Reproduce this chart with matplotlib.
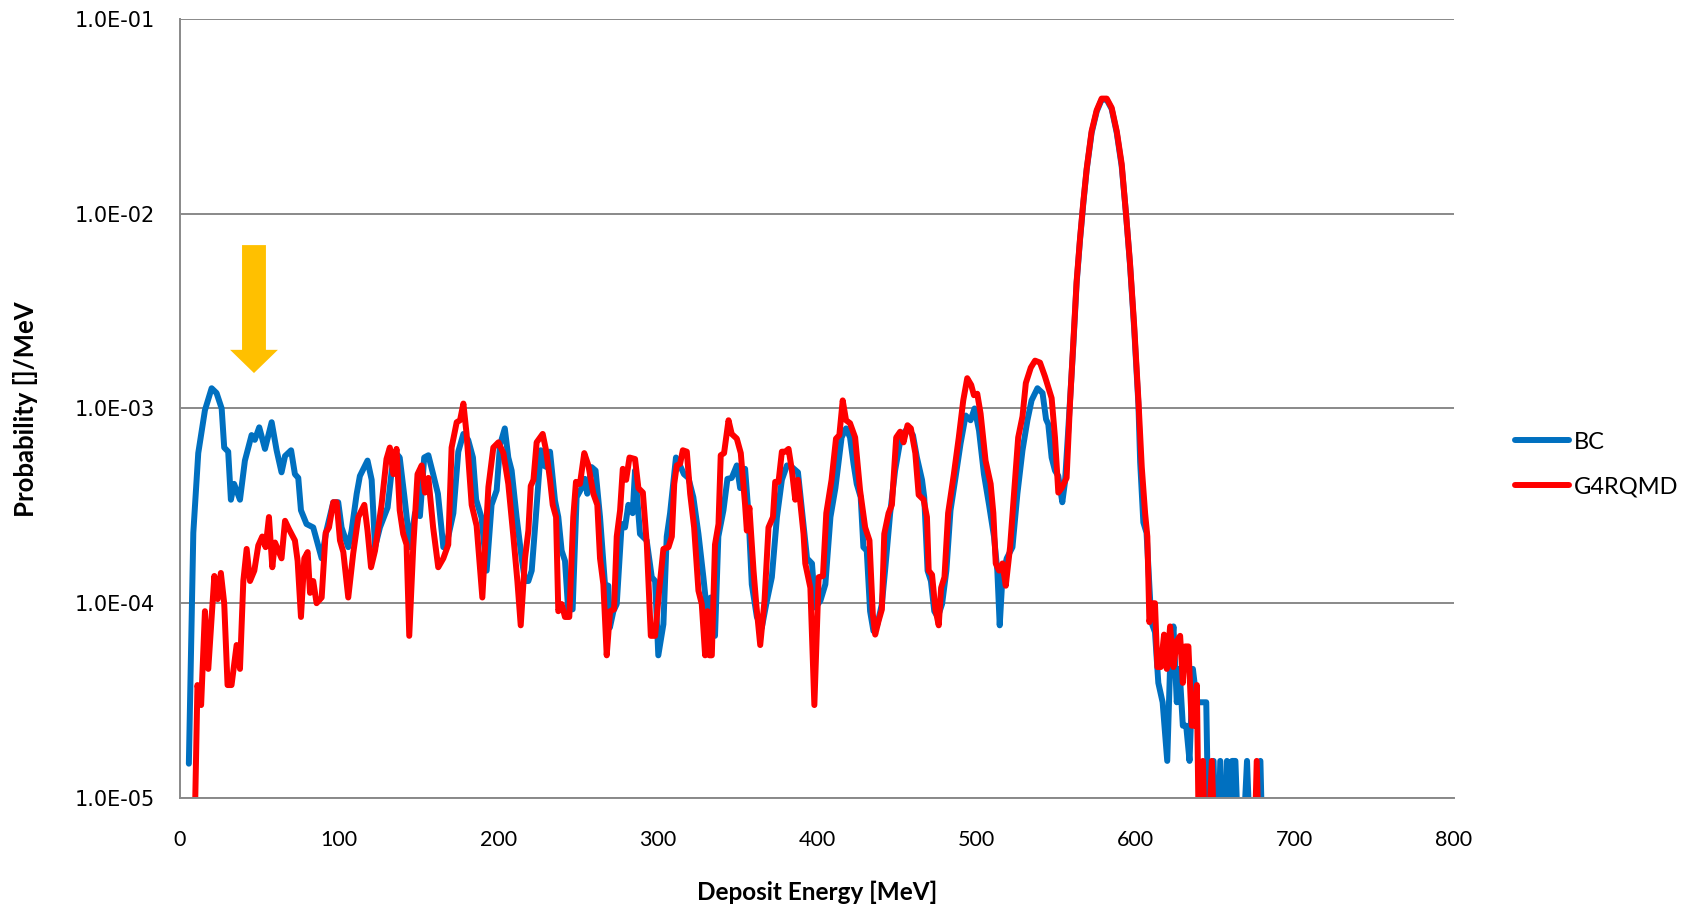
#!/usr/bin/env python3

import matplotlib
matplotlib.use("Agg")
import matplotlib.pyplot as plt
from matplotlib.patches import Polygon
from matplotlib.ticker import FixedLocator, FuncFormatter, NullLocator

# values below 1e-5 are zero bins; the log axis clips them at the bottom
bc_energy = [5.6, 8.4, 11.5, 15.7, 19.9, 23, 26.2, 27.8, 30.3, 32, 34, 37.7, 40.8, 45, 47, 49.8,
             53.4, 57.6, 60.7, 63.8, 66, 69.8, 72.2, 74.3, 76, 79.5, 83.7, 89, 92, 96.3, 99.4,
             101.5, 105.7, 107.8, 111, 113, 117.8, 120.4, 122.5, 125.6, 130.4, 133, 135, 138,
             141, 144.5, 147.6, 150.7, 153.4, 156, 159, 162, 165.4, 168.5, 171.7, 174.8, 178,
             181, 184, 186, 189.4, 192.6, 195.7, 198.9, 201, 204, 206.2, 208.3, 211.4, 214.6,
             216.7, 218.8, 220.9, 223, 226.6, 228.3, 230.3, 232.4, 235.5, 237.6, 239.7, 241.8,
             243.8, 246.6, 249.1, 252.2, 254.3, 255.8, 258.5, 261, 263.8, 266.9, 269, 270,
             272.2, 274.3, 277.4, 279.5, 281.6, 284.3, 285.8, 288.9, 293.1, 296.3, 298.4,
             300.4, 303.6, 305.7, 307.8, 311.5, 314, 316.5, 319.3, 322.4, 325.6, 328.7, 330.8,
             333.3, 336, 338.1, 341.3, 343.8, 346.5, 349.7, 351.8, 354.9, 357, 359.1, 362.3,
             365.4, 368.6, 371.7, 374.9, 378, 381.2, 384.3, 388.1, 390.6, 393.8, 396.9, 399,
             402.2, 405.3, 408.5, 411.6, 415.5, 418.3, 420.8, 423, 425, 427.5, 429.2, 431.3,
             433.4, 435.5, 438, 440.8, 442.8, 446, 449.1, 451.9, 454, 456.9, 460.3, 462.8,
             466, 467.4, 469.5, 471.6, 473.7, 475.9, 478.6, 481.3, 483.9, 487, 490.2, 493.4,
             496.5, 499, 501.8, 504.9, 508.1, 511.2, 513.3, 514.8, 516.5, 519.2, 522.8, 525.9,
             529.1, 532.2, 534.8, 538.5, 541.7, 543.9, 545.3, 547.4, 549.5, 551.6, 554.1,
             555.8, 557.9, 561, 563.1, 565.2, 567.3, 569.4, 572.5, 575.7, 578.8, 582, 585.1,
             588.3, 591.4, 594.1, 596.6, 599.2, 601.9, 603, 605, 607, 610, 612.3, 614.4,
             617.1, 620, 621.8, 623.9, 626, 627.7, 629.8, 631.9, 634, 636.1, 638.6, 641.7,
             644.5, 646.6, 649.1, 651.2, 653.3, 655.4, 657.5, 659.2, 660.7, 662.8, 665.9,
             670.1, 673.3, 678.5, 680.6]
bc_prob = [1.5e-5, 2.3e-4, 5.9e-4, 9.8e-4, 1.27e-3, 1.2e-3, 1.0e-3, 6.3e-4, 6.0e-4, 3.4e-4,
           4.1e-4, 3.4e-4, 5.4e-4, 7.3e-4, 6.9e-4, 8.0e-4, 6.2e-4, 8.5e-4, 6.1e-4, 4.7e-4,
           5.7e-4, 6.1e-4, 4.6e-4, 4.4e-4, 3.0e-4, 2.55e-4, 2.45e-4, 1.7e-4, 2.36e-4, 3.3e-4,
           3.3e-4, 2.45e-4, 1.94e-4, 2.36e-4, 3.65e-4, 4.5e-4, 5.4e-4, 4.3e-4, 1.94e-4,
           2.45e-4, 3.1e-4, 4.8e-4, 6.0e-4, 5.6e-4, 3.5e-4, 1.94e-4, 2.9e-4, 2.8e-4, 5.6e-4,
           5.75e-4, 4.6e-4, 3.65e-4, 1.94e-4, 2.2e-4, 2.9e-4, 6.0e-4, 7.4e-4, 6.9e-4, 5.6e-4,
           3.4e-4, 2.75e-4, 1.47e-4, 3.2e-4, 3.8e-4, 6.5e-4, 7.9e-4, 5.6e-4, 4.8e-4, 2.77e-4,
           1.7e-4, 1.3e-4, 1.3e-4, 1.47e-4, 2.45e-4, 6.1e-4, 5.1e-4, 5.0e-4, 6.0e-4, 3.37e-4,
           2.77e-4, 1.86e-4, 1.65e-4, 9.3e-5, 9.3e-5, 3.5e-4, 3.9e-4, 4.35e-4, 3.65e-4,
           5.0e-4, 4.8e-4, 2.77e-4, 1.25e-4, 1.23e-4, 7.5e-5, 9.1e-5, 9.9e-5, 2.55e-4,
           2.45e-4, 3.2e-4, 2.9e-4, 4.8e-4, 2.27e-4, 2.1e-4, 1.36e-4, 1.3e-4, 5.4e-5, 7.8e-5,
           2.2e-4, 2.9e-4, 5.6e-4, 5.1e-4, 4.6e-4, 4.4e-4, 3.5e-4, 2.27e-4, 1.36e-4, 9.3e-5,
           1.07e-4, 6.8e-5, 2.2e-4, 3.0e-4, 4.35e-4, 4.4e-4, 5.1e-4, 3.9e-4, 4.9e-4, 2.9e-4,
           1.25e-4, 8.5e-5, 7.5e-5, 1.03e-4, 1.36e-4, 2.77e-4, 4.3e-4, 5.1e-4, 5.0e-4,
           4.7e-4, 3.0e-4, 1.7e-4, 1.6e-4, 9.5e-5, 1.03e-4, 1.25e-4, 2.77e-4, 3.9e-4, 7.1e-4,
           7.9e-4, 7.1e-4, 5.2e-4, 4.1e-4, 3.5e-4, 1.94e-4, 1.86e-4, 9.1e-5, 7.2e-5, 7.8e-5,
           9.9e-5, 1.47e-4, 2.9e-4, 4.8e-4, 6.5e-4, 7.4e-4, 7.9e-4, 7.3e-4, 5.6e-4, 4.3e-4,
           3.5e-4, 1.47e-4, 1.3e-4, 9.1e-5, 8.5e-5, 9.9e-5, 1.47e-4, 3.0e-4, 4.4e-4, 6.6e-4,
           9.2e-4, 8.7e-4, 1.0e-3, 7.7e-4, 4.6e-4, 3.2e-4, 2.2e-4, 1.47e-4, 7.7e-5, 1.36e-4,
           1.7e-4, 1.94e-4, 3.65e-4, 6.1e-4, 8.7e-4, 1.1e-3, 1.27e-3, 1.2e-3, 8.8e-4, 8.3e-4,
           5.6e-4, 4.8e-4, 4.5e-4, 3.3e-4, 4.2e-4, 7.9e-4, 2.1e-3, 4.4e-3, 7.3e-3, 1.13e-2,
           1.68e-2, 2.6e-2, 3.35e-2, 3.85e-2, 3.85e-2, 3.45e-2, 2.6e-2, 1.75e-2, 1.0e-2,
           5.5e-3, 2.6e-3, 1.05e-3, 5.3e-4, 2.6e-4, 2.3e-4, 8.0e-5, 7.1e-5, 3.9e-5, 3.1e-5,
           1.55e-5, 4.8e-5, 7.6e-5, 3.1e-5, 4.6e-5, 2.35e-5, 2.35e-5, 1.55e-5, 4.6e-5, 3.1e-5,
           3.1e-5, 3.1e-5, 3e-6, 1.55e-5, 3e-6, 1.55e-5, 3e-6, 1.55e-5, 3e-6, 1.55e-5,
           1.55e-5, 3e-6, 1.55e-5, 3e-6, 1.55e-5, 3e-6]

rqmd_energy = [9.4, 11, 13.3, 15.7, 17.8, 21.6, 23.7, 25.7, 27.8, 29.9, 32.4, 35.6, 37.7, 39.8,
               41.9, 44, 46.7, 49.2, 51.7, 53.8, 55.9, 58, 59.7, 61.8, 63.8, 66, 68.5, 72.2,
               73.9, 76, 78.1, 80.2, 81.7, 83.7, 85.8, 89, 91.5, 93.6, 96.3, 98.4, 100.5,
               102.6, 105.7, 108.8, 112, 115.8, 117.8, 120, 122.5, 126.6, 129.7, 131.8, 134,
               136, 138, 140.2, 142.3, 144, 146.5, 149.2, 151.8, 153.9, 156, 159, 162.2, 165.4,
               168.5, 170.6, 173.8, 175.9, 178, 180, 183.2, 186.3, 189.9, 193.7, 196.8, 200,
               203.1, 206.2, 209.4, 211.9, 214, 216.7, 218.8, 220.3, 222, 224, 227.8, 229.9,
               232.4, 234.1, 236.2, 237.6, 239.7, 241.8, 244.5, 247, 248.7, 251.2, 253.9,
               256.5, 259.6, 262.1, 263.8, 265.9, 268, 270.1, 272.6, 274.3, 276.4, 278.1,
               280.2, 282.3, 285.8, 287.9, 290.7, 293.2, 295.7, 298.4, 301.1, 303.6, 306.8,
               308.9, 310.4, 312, 314.1, 315.8, 318.3, 320.4, 322.9, 325.6, 327.7, 329.8,
               331.3, 332.5, 334, 336, 338.2, 339.6, 341.7, 344.5, 346.5, 349.7, 352.2, 354.9,
               356, 357.6, 360.2, 361.9, 364.4, 367.1, 369.6, 372.4, 373.8, 375.9, 378, 380.1,
               382.2, 384.3, 386.4, 388.1, 391.6, 392.7, 395.9, 398.4, 401.1, 403.8, 405.9,
               409.2, 412, 414.1, 416.2, 418.3, 420.8, 424, 427.1, 430.3, 433, 435.1, 436.6,
               438.7, 440.8, 442.3, 445, 447.1, 449.8, 452.3, 454.4, 456.9, 459, 461.8, 463.9,
               467, 469.1, 470.2, 472.3, 474.4, 476.5, 478, 480.1, 482.4, 486, 489.1, 491.9,
               494.4, 496.9, 498.6, 500.7, 502.8, 505.9, 509.1, 510.8, 512.3, 514.4, 516.5,
               518.6, 521.3, 523.8, 526.4, 529.1, 531.2, 534.3, 537, 540.1, 543.2, 547.4,
               549.5, 551.6, 553.7, 556.8, 558.9, 561, 563.1, 565.2, 567.3, 569.4, 572.5,
               575.7, 578.8, 582, 585.1, 588.3, 591.4, 594.1, 596.6, 599.2, 601.9, 604, 606.1,
               607.5, 608.8, 610.9, 612.3, 613.8, 615.9, 618, 619.7, 621.8, 623.9, 626, 628.1,
               629.8, 631.2, 633.3, 635.4, 636.9, 638.6, 640.3, 642.4, 644.5, 648, 650.8, 674,
               676.2, 678.3]
rqmd_prob = [8e-6, 3.8e-5, 3.0e-5, 9.1e-5, 4.6e-5, 1.38e-4, 1.05e-4, 1.43e-4, 1.0e-4, 3.8e-5,
             3.8e-5, 6.1e-5, 4.6e-5, 1.3e-4, 1.9e-4, 1.3e-4, 1.47e-4, 1.98e-4, 2.2e-4, 1.94e-4,
             2.77e-4, 1.53e-4, 2.05e-4, 1.86e-4, 1.7e-4, 2.65e-4, 2.4e-4, 2.1e-4, 1.65e-4,
             8.5e-5, 1.7e-4, 1.83e-4, 1.13e-4, 1.3e-4, 1.0e-4, 1.07e-4, 2.3e-4, 2.45e-4, 3.3e-4,
             3.3e-4, 2.1e-4, 1.83e-4, 1.07e-4, 1.8e-4, 2.77e-4, 3.2e-4, 2.36e-4, 1.53e-4,
             1.86e-4, 3.2e-4, 5.5e-4, 6.3e-4, 4.6e-4, 6.2e-4, 3.0e-4, 2.27e-4, 2.0e-4, 6.8e-5,
             1.94e-4, 4.6e-4, 5.1e-4, 3.7e-4, 4.4e-4, 2.45e-4, 1.53e-4, 1.7e-4, 2.0e-4, 6.3e-4,
             8.5e-4, 8.7e-4, 1.06e-3, 7.4e-4, 3.2e-4, 2.5e-4, 1.07e-4, 3.95e-4, 6.3e-4, 6.7e-4,
             5.9e-4, 4.1e-4, 2.2e-4, 1.3e-4, 7.7e-5, 1.7e-4, 2.36e-4, 4.0e-4, 4.3e-4, 6.7e-4,
             7.4e-4, 6.1e-4, 4.3e-4, 3.2e-4, 2.77e-4, 9.1e-5, 9.9e-5, 8.5e-5, 8.5e-5, 2.77e-4,
             4.2e-4, 4.1e-4, 5.9e-4, 5.1e-4, 3.65e-4, 3.2e-4, 1.7e-4, 1.25e-4, 5.4e-5, 9.1e-5,
             9.3e-5, 2.2e-4, 3.0e-4, 4.9e-4, 4.3e-4, 5.6e-4, 5.5e-4, 3.9e-4, 3.7e-4, 2.0e-4,
             6.8e-5, 6.8e-5, 1.2e-4, 1.9e-4, 1.94e-4, 2.2e-4, 4.1e-4, 5.1e-4, 5.2e-4, 6.1e-4,
             6.0e-4, 3.65e-4, 2.45e-4, 1.16e-4, 9.9e-5, 5.4e-5, 9.1e-5, 5.4e-5, 5.4e-5, 2.0e-4,
             2.55e-4, 5.75e-4, 5.9e-4, 8.7e-4, 7.4e-4, 7.0e-4, 5.9e-4, 3.2e-4, 2.36e-4, 3.1e-4,
             1.47e-4, 9.9e-5, 6.1e-5, 1.03e-4, 2.45e-4, 2.77e-4, 4.2e-4, 4.2e-4, 6.0e-4, 6.0e-4,
             6.2e-4, 4.8e-4, 3.4e-4, 4.3e-4, 2.27e-4, 1.6e-4, 1.2e-4, 3.0e-5, 1.36e-4, 1.38e-4,
             2.9e-4, 4.3e-4, 7.0e-4, 7.3e-4, 1.1e-3, 8.7e-4, 8.4e-4, 7.1e-4, 3.8e-4, 2.45e-4,
             2.1e-4, 8.8e-5, 6.9e-5, 8.1e-5, 9.3e-5, 2.27e-4, 2.9e-4, 3.2e-4, 7.1e-4, 7.6e-4,
             6.7e-4, 8.2e-4, 7.9e-4, 5.9e-4, 3.6e-4, 3.4e-4, 2.77e-4, 1.47e-4, 1.4e-4, 9.3e-5,
             7.7e-5, 1.2e-4, 1.36e-4, 2.9e-4, 4.6e-4, 7.1e-4, 1.1e-3, 1.43e-3, 1.32e-3,
             1.17e-3, 1.19e-3, 9.4e-4, 5.4e-4, 4.1e-4, 2.9e-4, 1.6e-4, 1.47e-4, 1.6e-4,
             1.23e-4, 1.94e-4, 3.65e-4, 7.1e-4, 9.1e-4, 1.35e-3, 1.62e-3, 1.76e-3, 1.72e-3,
             1.46e-3, 1.13e-3, 7.1e-4, 3.7e-4, 3.9e-4, 4.4e-4, 1.05e-3, 2.15e-3, 4.5e-3,
             7.4e-3, 1.15e-2, 1.7e-2, 2.65e-2, 3.4e-2, 3.9e-2, 3.9e-2, 3.5e-2, 2.65e-2, 1.8e-2,
             1.0e-2, 5.6e-3, 2.7e-3, 1.1e-3, 5.0e-4, 2.9e-4, 2.2e-4, 8.0e-5, 1.0e-4, 1.0e-4,
             4.7e-5, 4.7e-5, 6.9e-5, 4.6e-5, 7.6e-5, 4.7e-5, 6.4e-5, 6.8e-5, 3.9e-5, 6.0e-5,
             6.0e-5, 2.35e-5, 2.35e-5, 3.8e-5, 3e-6, 1.55e-5, 3e-6, 1.55e-5, 3e-6, 3e-6,
             1.55e-5, 3e-6]

x_ticks = [0, 100, 200, 300, 400, 500, 600, 700, 800]
y_ticks = [1e-5, 1e-4, 1e-3, 1e-2, 1e-1]

# orange marker arrow pointing at the low-energy bump
arrow_x = 46.5
arrow_shaft_half = 7.5
arrow_head_half = 15.0
arrow_top = 6.9e-3
arrow_head_base = 2.0e-3
arrow_tip = 1.52e-3

GRID = "#898989"

plt.rcParams["font.family"] = ["Lato", "DejaVu Sans"]

fig = plt.figure(figsize=(16.88, 9.07), dpi=100)
ax = fig.add_axes([0.1066, 0.1202, 0.7547, 0.8589])

ax.plot(bc_energy, bc_prob, color="#0070C0", lw=4.3, label="BC",
        solid_joinstyle="round", solid_capstyle="round")
ax.plot(rqmd_energy, rqmd_prob, color="#FF0000", lw=4.3, label="G4RQMD",
        solid_joinstyle="round", solid_capstyle="round")

arrow = Polygon([
    (arrow_x - arrow_shaft_half, arrow_top),
    (arrow_x + arrow_shaft_half, arrow_top),
    (arrow_x + arrow_shaft_half, arrow_head_base),
    (arrow_x + arrow_head_half, arrow_head_base),
    (arrow_x, arrow_tip),
    (arrow_x - arrow_head_half, arrow_head_base),
    (arrow_x - arrow_shaft_half, arrow_head_base),
], closed=True, facecolor="#FFC000", edgecolor="none", zorder=3)
ax.add_patch(arrow)

ax.set_yscale("log")
ax.set_xlim(0, 800)
ax.set_ylim(1e-5, 1e-1)
ax.xaxis.set_major_locator(FixedLocator(x_ticks))
ax.yaxis.set_major_locator(FixedLocator(y_ticks))
ax.yaxis.set_minor_locator(NullLocator())
ax.yaxis.set_major_formatter(FuncFormatter(lambda v, p: f"{v:.1E}"))

ax.grid(axis="y", color=GRID, lw=1.4)
ax.set_axisbelow(True)
for side in ["top", "right"]:
    ax.spines[side].set_visible(False)
for side in ["left", "bottom"]:
    ax.spines[side].set_color(GRID)
    ax.spines[side].set_linewidth(1.4)

ax.tick_params(axis="x", length=0, pad=23, labelsize=15.5)
ax.tick_params(axis="y", length=0, pad=18, labelsize=15)
for lab in ax.get_yticklabels():
    lab.set_fontfamily("DejaVu Sans")

ax.set_xlabel("Deposit Energy [MeV]", fontsize=17.5, fontweight="bold")
ax.set_ylabel("Probability []/MeV", fontsize=18.5, fontweight="bold")
ax.xaxis.set_label_coords(0.5, -0.121)
ax.xaxis.label.set_va("center")
ax.yaxis.set_label_coords(-0.1215, 0.499)
ax.yaxis.label.set_va("center")

fig.legend(loc="center left", bbox_to_anchor=(1515 / 1688, 0.488), frameon=False,
           fontsize=17, handlelength=2.3, handletextpad=0.2, labelspacing=1.0,
           borderpad=0, borderaxespad=0)

fig.savefig("out.png", dpi=100)
